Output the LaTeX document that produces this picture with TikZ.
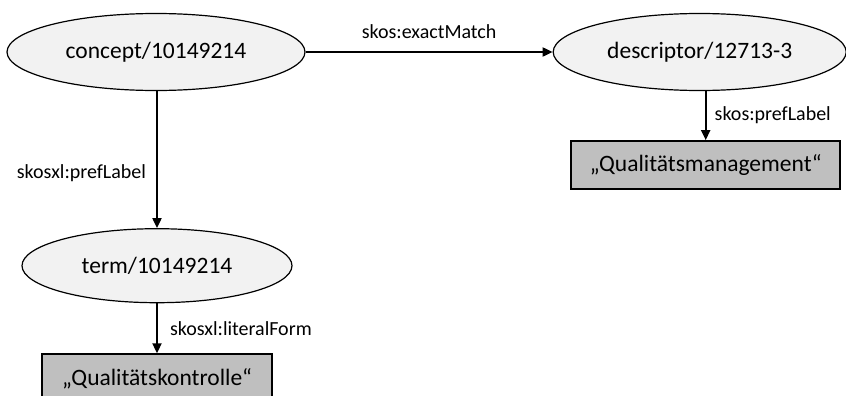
\documentclass[tikz,border=0pt]{standalone}
\usepackage{fontspec}
\setmainfont{Carlito}
\usetikzlibrary{positioning, arrows.meta, shapes.geometric}
\tikzset{>={Triangle[length=5pt, width=4.5pt]}}
\definecolor{resfill}{HTML}{F2F2F2}
\definecolor{litfill}{HTML}{BFBFBF}

\begin{document}
\begin{tikzpicture}[resource/.style ={ellipse, draw=black, line width=0.6pt, fill=resfill, inner sep=0pt, font=\fontsize{11.75}{14}\selectfont},
literal/.style={rectangle, draw=black, line width=1pt, fill=litfill, inner sep=0pt, minimum height=24pt, font=\fontsize{11.75}{14}\selectfont},
prop/.style={font=\fontsize{10}{12}\selectfont, inner sep=1pt},
link/.style={->, line width=1pt}]
    \useasboundingbox (0,0) rectangle (423pt,-198pt);
    \node[resource, minimum width=149pt, minimum height=38.5pt] (concept) at (78pt,-26pt) {concept/10149214};
    \node[resource, minimum width=146.5pt, minimum height=38.5pt, right=123.5pt of concept] (descriptor) {descriptor/12713-3};
    \node[resource, minimum width=135pt, minimum height=37pt, below=68.5pt of concept, xshift=0.5pt] (term) {term/10149214};

    \node[literal, minimum width=134.5pt, below=24.5pt of descriptor, xshift=3pt] (prefvalue) {„Qualitätsmanagement“};
    \node[literal, minimum width=115pt, below=25pt of term] (litvalue) {„Qualitätskontrolle“};

    \draw[link] (concept) -- node[prop, above=5pt] {skos:exactMatch} (descriptor);
    \draw[link] (concept.south -| term.north) -- node[prop, left=4pt, pos=0.6] {skosxl:prefLabel} (term);
    \draw[link] (descriptor.south -| prefvalue.north) -- node[prop, right=3pt] {skos:prefLabel} (prefvalue);
    \draw[link] (term) -- node[prop, right=5pt] {skosxl:literalForm} (litvalue);
\end{tikzpicture}
\end{document}
